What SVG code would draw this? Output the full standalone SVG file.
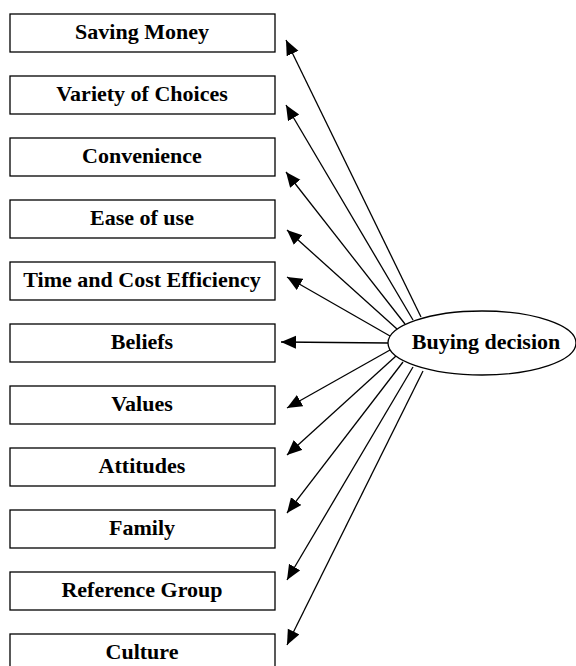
<svg xmlns="http://www.w3.org/2000/svg" width="576" height="666" viewBox="0 0 576 666">
  <style>
    .box rect { fill: #fff; stroke: #000; stroke-width: 1.3; }
    .box text, .hub text { font-family: "Liberation Serif", "DejaVu Serif", serif; font-weight: bold; font-size: 22px; fill: #000; text-anchor: middle; }
    .hub ellipse { fill: #fff; stroke: #000; stroke-width: 1.3; }
    .links line { stroke: #000; stroke-width: 1.3; marker-end: url(#head); }
  </style>
  <defs>
    <marker id="head" markerUnits="userSpaceOnUse" markerWidth="16" markerHeight="14" refX="15" refY="6.5" orient="auto">
      <path d="M0,0 L15,6.5 L0,13 z" fill="#000"/>
    </marker>
  </defs>
  <rect width="576" height="666" fill="#fff"/>

  <!-- factor boxes -->
  <g id="saving-money" class="box"><rect x="10" y="14" width="265" height="38"/><text x="142" y="39">Saving Money</text></g>
  <g id="variety-of-choices" class="box"><rect x="10" y="76" width="265" height="38"/><text x="142" y="101">Variety of Choices</text></g>
  <g id="convenience" class="box"><rect x="10" y="138" width="265" height="38"/><text x="142" y="163">Convenience</text></g>
  <g id="ease-of-use" class="box"><rect x="10" y="200" width="265" height="38"/><text x="142" y="225">Ease of use</text></g>
  <g id="time-cost" class="box"><rect x="10" y="262" width="265" height="38"/><text x="142" y="287">Time and Cost Efficiency</text></g>
  <g id="beliefs" class="box"><rect x="10" y="324" width="265" height="38"/><text x="142" y="349">Beliefs</text></g>
  <g id="values" class="box"><rect x="10" y="386" width="265" height="38"/><text x="142" y="411">Values</text></g>
  <g id="attitudes" class="box"><rect x="10" y="448" width="265" height="38"/><text x="142" y="473">Attitudes</text></g>
  <g id="family" class="box"><rect x="10" y="510" width="265" height="38"/><text x="142" y="535">Family</text></g>
  <g id="reference-group" class="box"><rect x="10" y="572" width="265" height="38"/><text x="142" y="597">Reference Group</text></g>
  <g id="culture" class="box"><rect x="10" y="634" width="265" height="38"/><text x="142" y="659">Culture</text></g>

  <!-- connectors from the decision hub to each factor -->
  <g id="connectors" class="links">
    <line x1="421" y1="317" x2="286" y2="40"/>
    <line x1="413" y1="320" x2="286" y2="105"/>
    <line x1="405" y1="324" x2="286" y2="172"/>
    <line x1="397" y1="329" x2="287" y2="230"/>
    <line x1="390" y1="336" x2="287" y2="277"/>
    <line x1="388" y1="343" x2="281" y2="342"/>
    <line x1="390" y1="350" x2="287" y2="408"/>
    <line x1="396" y1="356" x2="287" y2="455"/>
    <line x1="403" y1="362" x2="287" y2="513"/>
    <line x1="413" y1="367" x2="287" y2="580"/>
    <line x1="423" y1="371" x2="287" y2="645"/>
  </g>

  <!-- decision hub -->
  <g id="buying-decision" class="hub">
    <ellipse cx="482" cy="343" rx="94" ry="32"/>
    <text x="486" y="349">Buying decision</text>
  </g>
</svg>
